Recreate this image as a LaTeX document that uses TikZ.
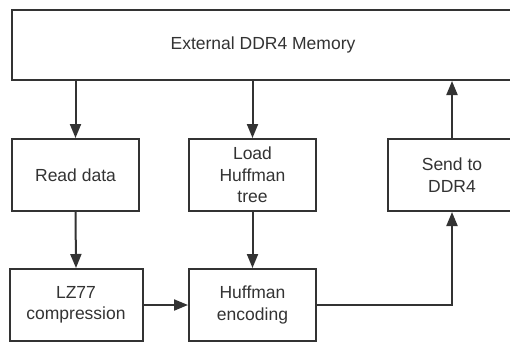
\documentclass[tikz,border=0pt]{standalone}
\usepackage{fontspec}
\setmainfont{Liberation Sans}
\usetikzlibrary{arrows.meta}
\definecolor{ink}{HTML}{333333}
\tikzset{
  box/.style={draw=ink, line width=2pt, fill=white, text=ink, align=center,
    inner sep=0pt, font=\fontsize{17.5}{21.5}\selectfont},
  arr/.style={draw=ink, line width=2pt, -{Triangle[length=14pt,width=11pt]}},
}
\begin{document}
\begin{tikzpicture}[x=1pt,y=-1pt]
\useasboundingbox (0,0) rectangle (510,343);
\clip (0,0) rectangle (510,343);
\node[box, minimum width=502pt, minimum height=70pt] (top) at (263,45) {External DDR4 Memory};
\node[box, minimum width=127pt, minimum height=72pt] (rd) at (75.5,175) {Read data};
\node[box, minimum width=127pt, minimum height=72pt] (ld) at (252.5,175) {Load\\Huffman\\tree};
\node[box, minimum width=128pt, minimum height=72pt] (sd) at (452,175) {Send to\\DDR4};
\node[box, minimum width=133pt, minimum height=72pt] (lz) at (76,305) {LZ77\\compression};
\node[box, minimum width=127pt, minimum height=72pt] (he) at (252.5,305) {Huffman\\encoding};
\draw[arr] (top.south -| rd.north) -- (rd.north);
\draw[arr] (top.south -| ld.north) -- (ld.north);
\draw[arr] (rd.south) -- (lz.north);
\draw[arr] (ld.south) -- (he.north);
\draw[arr] (lz.east) -- (he.west);
\draw[arr] (he.east) -- (he.east -| sd.south) -- (sd.south);
\draw[arr] (sd.north) -- (sd.north |- top.south);
\end{tikzpicture}
\end{document}
